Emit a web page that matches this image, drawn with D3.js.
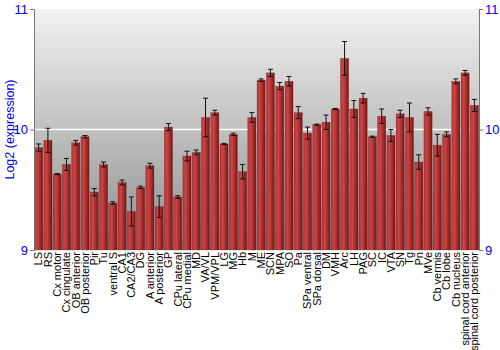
<!DOCTYPE html>
<html>
<head>
<meta charset="utf-8">
<script src="https://cdn.jsdelivr.net/npm/d3@7"></script>
<style>
body { margin: 0; background: #fff; }
svg { display: block; font-family: "Liberation Sans", Arial, sans-serif; }
</style>
</head>
<body>
<script>
// regions, mean log2 expression and error
var regions = ["LS","RS","Cx motor","Cx cingulate","OB anterior","OB posterior","Pir","Tu","ventral S","CA1",
	"CA2/CA3","DG","A anterior","A posterior","GP","CPu lateral","CPu medial","MD","VA/VL","VPM/VPL",
	"LG","MG","Hb","M","ME","SCN","MPA","SO","Pa","SPa ventral",
	"SPa dorsal","DM","VMH","Arc","LH","PAG","SC","IC","VTA","SN",
	"Tg","Pn","MVe","Cb vermis","Cb lobe","Cb nucleus","spinal cord anterior","spinal cord posterior"];
var means = [9.85,9.91,9.63,9.71,9.89,9.94,9.48,9.71,9.39,9.56,
	9.32,9.52,9.70,9.36,10.02,9.44,9.78,9.81,10.10,10.14,
	9.88,9.96,9.65,10.10,10.41,10.47,10.36,10.40,10.14,9.97,
	10.04,10.06,10.17,10.59,10.17,10.26,9.94,10.11,9.95,10.13,
	10.10,9.73,10.15,9.87,9.96,10.40,10.47,10.20];
var errs = [0.03,0.10,0.005,0.05,0.02,0.01,0.03,0.02,0.01,0.02,
	0.12,0.01,0.02,0.09,0.03,0.01,0.04,0.02,0.16,0.02,
	0.005,0.01,0.06,0.04,0.01,0.03,0.03,0.04,0.05,0.05,
	0.005,0.06,0.005,0.14,0.07,0.04,0.005,0.06,0.05,0.03,
	0.12,0.06,0.03,0.09,0.02,0.02,0.02,0.05];
var yTicks = [9, 10, 11];

var W = 500, H = 350;
var pL = 34, pR = 479, pT = 9, pB = 250;

var svg = d3.select("body").append("svg").attr("width", W).attr("height", H);
var defs = svg.append("defs");

var bg = defs.append("linearGradient").attr("id", "bg").attr("x1", 0).attr("y1", 0).attr("x2", 0).attr("y2", 1);
bg.append("stop").attr("offset", "0%").attr("stop-color", "#f2f2f2");
bg.append("stop").attr("offset", "100%").attr("stop-color", "#8e8e8e");

var barg = defs.append("linearGradient").attr("id", "barg").attr("x1", 0).attr("y1", 0).attr("x2", 1).attr("y2", 0);
barg.append("stop").attr("offset", "0%").attr("stop-color", "#b83636");
barg.append("stop").attr("offset", "35%").attr("stop-color", "#c94444");
barg.append("stop").attr("offset", "100%").attr("stop-color", "#7a1515");

var x = d3.scaleBand().domain(regions).range([pL, pR]).paddingInner(0.12).paddingOuter(0.06);
var y = d3.scaleLinear().domain([9, 11]).range([pB, pT]);

svg.append("rect")
	.attr("x", pL).attr("y", pT)
	.attr("width", pR - pL).attr("height", pB - pT)
	.attr("fill", "url(#bg)");

// white line at 10
svg.append("line")
	.attr("x1", pL).attr("x2", pR)
	.attr("y1", y(10)).attr("y2", y(10))
	.attr("stroke", "#ffffff").attr("stroke-width", 1.5);

svg.selectAll("rect.bar").data(regions).enter().append("rect")
	.attr("class", "bar")
	.attr("x", function(d){ return x(d); })
	.attr("y", function(d, i){ return y(means[i]); })
	.attr("width", x.bandwidth())
	.attr("height", function(d, i){ return y(9) - y(means[i]); })
	.attr("fill", "url(#barg)")
	.attr("stroke", "#5a1010").attr("stroke-opacity", 0.5).attr("stroke-width", 0.5);

// error bars
var eb = svg.selectAll("g.err").data(regions).enter().append("g").attr("class", "err");
eb.append("line")
	.attr("x1", function(d){ return x(d) + x.bandwidth()/2; })
	.attr("x2", function(d){ return x(d) + x.bandwidth()/2; })
	.attr("y1", function(d, i){ return y(means[i] + errs[i]); })
	.attr("y2", function(d, i){ return y(means[i] - errs[i]); })
	.attr("stroke", "#111").attr("stroke-width", 1);
[1, -1].forEach(function(s){
	eb.append("line")
		.attr("x1", function(d){ return x(d) + x.bandwidth()/2 - 2.5; })
		.attr("x2", function(d){ return x(d) + x.bandwidth()/2 + 2.5; })
		.attr("y1", function(d, i){ return y(means[i] + s*errs[i]); })
		.attr("y2", function(d, i){ return y(means[i] + s*errs[i]); })
		.attr("stroke", "#111").attr("stroke-width", 1);
});

// axes
var yl = svg.append("g").attr("transform", "translate(" + pL + ",0)")
	.call(d3.axisLeft(y).tickValues(yTicks).tickSize(4).tickPadding(2).tickFormat(d3.format("d")));
var yr = svg.append("g").attr("transform", "translate(" + pR + ",0)")
	.call(d3.axisRight(y).tickValues(yTicks).tickSize(4).tickPadding(2).tickFormat(d3.format("d")));
[yl, yr].forEach(function(g){
	g.select(".domain").attr("stroke", "#777");
	g.selectAll(".tick line").attr("stroke", "#777");
	g.selectAll(".tick text").attr("fill", "#0000ee").attr("font-size", 13).attr("font-family", "Liberation Sans, Arial, sans-serif");
});

svg.append("text")
	.attr("transform", "translate(10," + ((pT + pB)/2) + ") rotate(-90)")
	.attr("text-anchor", "middle")
	.attr("dy", "0.35em")
	.attr("fill", "#0000ee")
	.attr("font-size", 12.5)
	.text("Log2 (expression)");

// category labels
svg.selectAll("text.cat").data(regions).enter().append("text")
	.attr("class", "cat")
	.attr("transform", function(d){ return "translate(" + (x(d) + x.bandwidth()/2) + "," + (pB + 2) + ") rotate(-90)"; })
	.attr("text-anchor", "end")
	.attr("dy", "0.35em")
	.attr("font-size", 11)
	.attr("fill", "#000")
	.text(function(d){ return d; });
</script>
</body>
</html>
